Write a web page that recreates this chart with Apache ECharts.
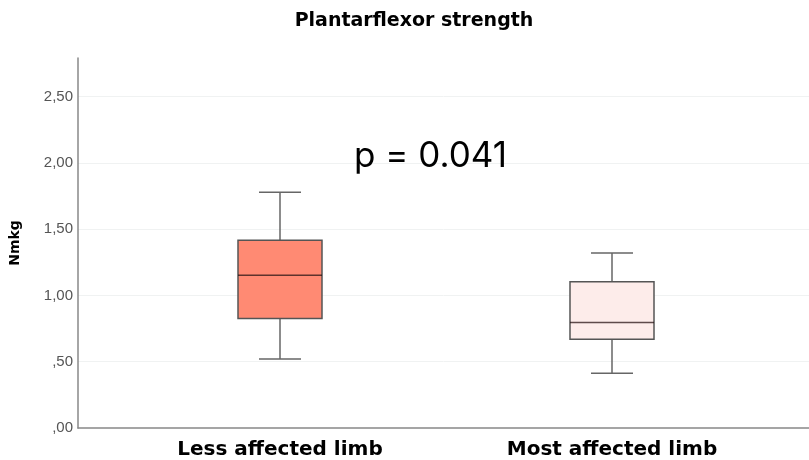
<!DOCTYPE html>
<html><head><meta charset="utf-8">
<script src="https://cdn.jsdelivr.net/npm/echarts@6/dist/echarts.min.js"></script>
<style>html,body{margin:0;padding:0;background:#fff}#c{width:809px;height:460px}</style>
</head><body><div id="c"></div>
<script>
var categories = ['Less affected limb', 'Most affected limb'];
// [lower whisker, Q1, median, Q3, upper whisker]
var lessAffected = [0.52, 0.826, 1.152, 1.416, 1.777];
var mostAffected = [0.412, 0.67, 0.796, 1.102, 1.32];
var boxColors = ['#ff8a73', '#fdecea'];
var yTicks = [0, 0.5, 1, 1.5, 2, 2.5];
var pLabel = 'p = 0.041';

function fmt(v){
  var s = v.toFixed(2).replace('.', ',');
  if (s.indexOf('0,') === 0) s = s.slice(1);
  return s;
}
var BOX_W = 84, CAP_W = 42;
function renderBox(params, api){
  var ci = api.value(0);
  var lo = api.coord([ci, api.value(1)]);
  var q1 = api.coord([ci, api.value(2)]);
  var md = api.coord([ci, api.value(3)]);
  var q3 = api.coord([ci, api.value(4)]);
  var hi = api.coord([ci, api.value(5)]);
  var x = lo[0];
  var lineStyle = {stroke: '#666', lineWidth: 1.5};
  return {type: 'group', children: [
    {type: 'line', shape: {x1: x, y1: hi[1], x2: x, y2: q3[1]}, style: lineStyle},
    {type: 'line', shape: {x1: x, y1: q1[1], x2: x, y2: lo[1]}, style: lineStyle},
    {type: 'line', shape: {x1: x - CAP_W/2, y1: hi[1], x2: x + CAP_W/2, y2: hi[1]}, style: lineStyle},
    {type: 'line', shape: {x1: x - CAP_W/2, y1: lo[1], x2: x + CAP_W/2, y2: lo[1]}, style: lineStyle},
    {type: 'rect', shape: {x: x - BOX_W/2, y: q3[1], width: BOX_W, height: q1[1] - q3[1]},
      style: {fill: boxColors[params.dataIndex], stroke: '#555', lineWidth: 1.5}},
    {type: 'line', shape: {x1: x - BOX_W/2, y1: md[1], x2: x + BOX_W/2, y2: md[1]},
      style: {stroke: 'rgba(40,20,20,0.75)', lineWidth: 1.6}}
  ]};
}
var boxData = [
  [0].concat(lessAffected),
  [1].concat(mostAffected)
];
var chart = echarts.init(document.getElementById('c'));
var yMin = 0, yMax = 2.79;
chart.setOption({
  animation: false,
  title: {text: 'Plantarflexor strength', left: 409, top: 7, textAlign: 'center',
    textStyle: {fontFamily: 'DejaVu Sans', fontWeight: 'bold', fontSize: 19, color: '#000'}},
  grid: [
    {left: 77, right: 0, top: 58, bottom: 32},
    {left: 114, right: 31, top: 58, bottom: 32}
  ],
  xAxis: [
    {gridIndex: 0, type: 'value', min: 0, max: 1,
      axisLine: {show: true, onZero: false, lineStyle: {color: '#888', width: 1.5}},
      axisTick: {show: false}, axisLabel: {show: false}, splitLine: {show: false}},
    {gridIndex: 1, type: 'category', data: categories,
      axisLine: {show: false}, axisTick: {show: false},
      axisLabel: {margin: 12, color: '#000', fontFamily: 'DejaVu Sans', fontWeight: 'bold', fontSize: 20}}
  ],
  yAxis: [
    {gridIndex: 0, type: 'value', min: yMin, max: yMax, interval: 0.5,
      name: 'Nmkg', nameLocation: 'middle', nameGap: 56, nameRotate: 90,
      nameTextStyle: {fontFamily: 'DejaVu Sans', fontWeight: 'bold', fontSize: 14, color: '#000'},
      axisLine: {show: true, lineStyle: {color: '#888', width: 1.5}},
      axisTick: {show: false},
      axisLabel: {margin: 5, color: '#555', fontFamily: 'Liberation Sans', fontSize: 15,
        formatter: function(v){ return yTicks.some(function(t){return Math.abs(t-v)<1e-9;}) ? fmt(v) : ''; }},
      splitLine: {show: true, showMaxLine: false, showMinLine: false, lineStyle: {color: '#f0f2f2', width: 1}}},
    {gridIndex: 1, type: 'value', min: yMin, max: yMax, interval: 0.5, show: false, splitLine: {show: false}}
  ],
  graphic: [
    {type: 'text', left: 354, top: 139, z: 100, zlevel: 1, style: {text: pLabel, fontFamily: 'Inter', fontSize: 35, fill: '#000'}}
  ],
  series: [{
    type: 'custom', xAxisIndex: 1, yAxisIndex: 1,
    renderItem: renderBox,
    encode: {x: 0, y: [1, 2, 3, 4, 5]},
    data: boxData
  }]
});
</script></body></html>
